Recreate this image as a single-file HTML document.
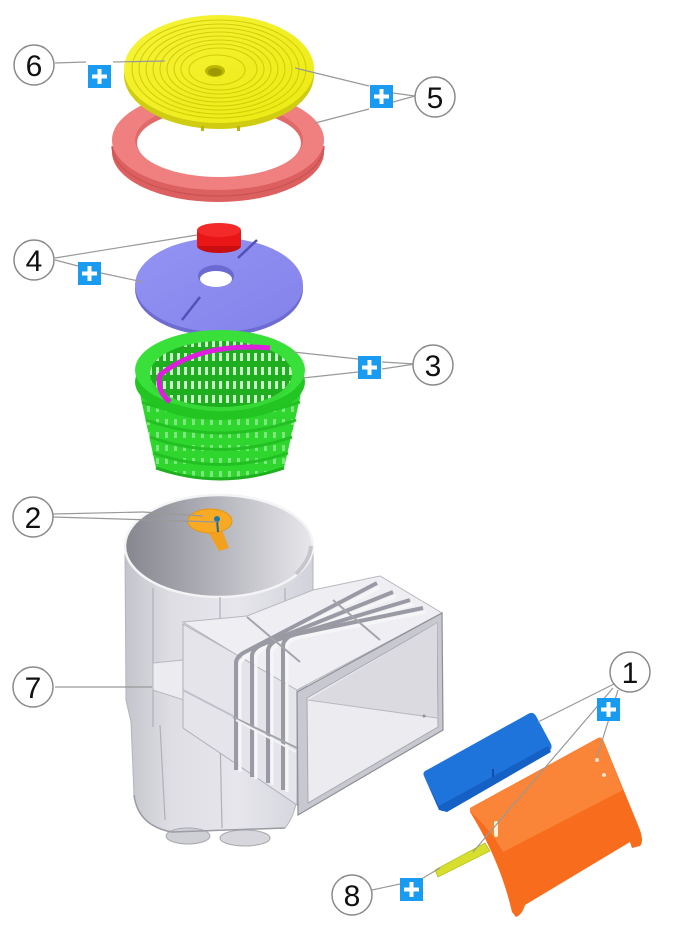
<!DOCTYPE html>
<html><head><meta charset="utf-8">
<style>
html,body{margin:0;padding:0;background:#fff;}
svg{display:block;}
text{font-family:"Liberation Sans",Arial,sans-serif;}
</style></head>
<body>
<svg width="700" height="940" viewBox="0 0 700 940" xmlns="http://www.w3.org/2000/svg">
<defs>
  <linearGradient id="cyl" x1="0" x2="1" y1="0" y2="0">
    <stop offset="0" stop-color="#c4c4cc"/>
    <stop offset="0.25" stop-color="#dedee4"/>
    <stop offset="0.6" stop-color="#e6e6ec"/>
    <stop offset="1" stop-color="#d2d2da"/>
  </linearGradient>
  <linearGradient id="inner" x1="0" x2="1" y1="0" y2="0">
    <stop offset="0" stop-color="#86868e"/>
    <stop offset="0.45" stop-color="#b0b0b8"/>
    <stop offset="1" stop-color="#e8e8ec"/>
  </linearGradient>
  <linearGradient id="lid" x1="0" x2="1" y1="0" y2="1">
    <stop offset="0" stop-color="#f6f43a"/>
    <stop offset="1" stop-color="#ecea10"/>
  </linearGradient>
  <linearGradient id="plate" x1="0" x2="1" y1="0" y2="1">
    <stop offset="0" stop-color="#9494f4"/>
    <stop offset="1" stop-color="#8282ea"/>
  </linearGradient>
  <pattern id="bslots" width="9" height="13" patternUnits="userSpaceOnUse">
    <rect width="9" height="13" fill="#2ed62e"/>
    <rect x="3" y="3" width="3" height="6" fill="#7de67d"/>
  </pattern>
  <pattern id="islots" width="7" height="14" patternUnits="userSpaceOnUse">
    <rect width="7" height="14" fill="#1fae1f"/>
    <rect x="2" y="3" width="3" height="8" fill="#c8f4c8"/>
  </pattern>
</defs>

<!-- ===== Pink ring (5) ===== -->
<ellipse cx="218" cy="152" rx="106" ry="50" fill="#dc6060"/>
<path d="M112,146 A106,50 0 0 0 324,146" fill="none" stroke="#c85252" stroke-width="1.2"/>
<ellipse cx="218" cy="140" rx="106" ry="50" fill="#f07f7f"/>
<ellipse cx="219" cy="140" rx="84" ry="37" fill="#e06a6a"/>
<ellipse cx="219" cy="143" rx="82" ry="34" fill="#ffffff"/>

<!-- ===== Yellow lid (6) ===== -->
<ellipse cx="219" cy="75" rx="95" ry="54" fill="#cfcc12"/>
<ellipse cx="219" cy="69" rx="95" ry="54" fill="url(#lid)"/>
<g fill="none" stroke="#d2cf08" stroke-width="1.1">
  <ellipse cx="219" cy="69" rx="87" ry="49"/>
  <ellipse cx="219" cy="69" rx="80" ry="45"/>
  <ellipse cx="219" cy="69" rx="73" ry="41"/>
  <ellipse cx="219" cy="69" rx="66" ry="37"/>
  <ellipse cx="219" cy="69" rx="59" ry="33"/>
  <ellipse cx="219" cy="69" rx="52" ry="29"/>
  <ellipse cx="219" cy="69" rx="45" ry="25"/>
  <ellipse cx="219" cy="69" rx="38" ry="21"/>
  <ellipse cx="217" cy="70" rx="28" ry="15"/>
</g>
<ellipse cx="215" cy="71" rx="10" ry="6" fill="#bdb600"/>
<ellipse cx="215" cy="72" rx="7" ry="4" fill="#9e9800"/>
<rect x="201" y="126" width="3" height="5" fill="#b8b410"/>
<rect x="237" y="126" width="3" height="5" fill="#b8b410"/>

<!-- ===== Lavender plate (4) ===== -->
<ellipse cx="219" cy="289" rx="84" ry="47" fill="#6c6cd2"/>
<ellipse cx="219" cy="285" rx="84" ry="47" fill="url(#plate)"/>
<ellipse cx="216" cy="276" rx="18" ry="11" fill="#6a6ad0"/>
<ellipse cx="216" cy="279" rx="16" ry="8" fill="#ffffff"/>
<line x1="257" y1="240" x2="238" y2="258" stroke="#5050b8" stroke-width="2.5"/>
<line x1="200" y1="297" x2="182" y2="320" stroke="#5050b8" stroke-width="2.5"/>
<!-- red cap -->
<ellipse cx="219" cy="246" rx="22" ry="7" fill="#c80e0e"/>
<rect x="197" y="230" width="44" height="16" fill="#e81616"/>
<ellipse cx="219" cy="230" rx="22" ry="7" fill="#f42a2a"/>

<!-- ===== Green basket (3) ===== -->
<path d="M138,385 L156,468 Q220,490 284,468 L303,385 Z" fill="url(#bslots)"/>
<g fill="none" stroke="#22c022" stroke-width="3">
  <path d="M142,402 Q220,430 300,402"/>
  <path d="M146,420 Q220,446 296,420"/>
  <path d="M150,437 Q220,462 292,437"/>
  <path d="M153,453 Q220,476 288,453"/>
</g>
<path d="M156,468 Q220,490 284,468" fill="none" stroke="#1eb01e" stroke-width="3"/>
<ellipse cx="220" cy="382" rx="85" ry="38" fill="#22c522"/>
<ellipse cx="220" cy="370" rx="85" ry="40" fill="#3ae03a"/>
<ellipse cx="221" cy="374" rx="71" ry="33" fill="url(#islots)"/>
<path d="M152,384 A71,33 0 0 0 290,384" fill="none" stroke="#36d836" stroke-width="4"/>
<path d="M270,348 Q200,342 160,375 Q156,390 170,402" fill="none" stroke="#dd1fdd" stroke-width="5"/>

<!-- ===== Skimmer body (7) ===== -->
<path d="M125,546 L126,700 L131,722 L134,795 Q138,826 172,832 L285,828 Q296,815 298,790 L313,600 L313,546 Z" fill="url(#cyl)" stroke="#b4b4bc" stroke-width="1"/>
<ellipse cx="188" cy="836" rx="22" ry="8" fill="#cfcfd6" stroke="#a8a8b0"/>
<ellipse cx="245" cy="838" rx="25" ry="8" fill="#d6d6dc" stroke="#a8a8b0"/>
<path d="M134,795 Q138,826 172,832 L285,828" fill="none" stroke="#9c9ca4" stroke-width="1.5"/>
<ellipse cx="219" cy="546" rx="94" ry="51" fill="url(#inner)" stroke="#f4f4f6" stroke-width="2.5"/>
<path d="M296,574 Q310,560 311,546" fill="none" stroke="#c6c6cc" stroke-width="4"/>
<g stroke="#b0b0b8" stroke-width="1.2">
  <line x1="153" y1="588" x2="153" y2="727"/>
  <line x1="220" y1="597" x2="220" y2="625"/>
  <line x1="285" y1="588" x2="285" y2="612"/>
  <line x1="160" y1="725" x2="165" y2="820"/>
  <line x1="220" y1="735" x2="222" y2="828"/>
</g>
<!-- collar -->
<polygon points="153,663 183,660 240,700 233,716 153,690" fill="#ececf0" stroke="#b8b8c0" stroke-width="1"/>

<!-- box left face -->
<polygon points="183,624 237,655 297,690 297,805 183,728" fill="#e4e4ea" stroke="#b0b0b8" stroke-width="1"/>
<!-- box top face -->
<polygon points="183,622 247,616 313,590 380,576 442,613 297,690 237,655" fill="#efeff3" stroke="#b8b8c0" stroke-width="1"/>
<line x1="183" y1="690" x2="233" y2="716" stroke="#c0c0c8" stroke-width="2"/>

<!-- ribs -->
<g fill="none" stroke-linejoin="round">
  <path d="M236,770 L236,662 Q237,656 245,652 L377,583" stroke="#9a9aa4" stroke-width="4"/>
  <path d="M240,772 L240,664 Q241,659 249,655 L380,587" stroke="#f6f6f8" stroke-width="3"/>
  <path d="M252,777 L252,655 Q253,649 261,645 L393,592" stroke="#9a9aa4" stroke-width="4"/>
  <path d="M256,779 L256,657 Q257,652 265,648 L396,596" stroke="#f6f6f8" stroke-width="3"/>
  <path d="M268,783 L268,650 Q269,644 277,640 L410,600" stroke="#9a9aa4" stroke-width="4"/>
  <path d="M272,785 L272,652 Q273,647 281,643 L413,604" stroke="#f6f6f8" stroke-width="3"/>
  <path d="M283,790 L283,645 Q284,639 292,635 L423,608" stroke="#9a9aa4" stroke-width="4"/>
  <path d="M287,792 L287,647 Q288,642 296,638 L426,612" stroke="#f6f6f8" stroke-width="3"/>
</g>
<g stroke="#a4a4ac" stroke-width="2">
  <line x1="247" y1="617" x2="300" y2="662"/>
  <line x1="333" y1="600" x2="380" y2="640"/>
  <line x1="233" y1="717" x2="297" y2="748"/>
</g>
<line x1="236" y1="720" x2="296" y2="752" stroke="#f4f4f6" stroke-width="2"/>

<!-- flange / mouth -->
<polygon points="297,692 442,613 443,730 298,815" fill="#c8c8d0" stroke="#8e8e96" stroke-width="1.2"/>
<polygon points="307,698 437,623 438,727 308,803" fill="#ececf0" stroke="#a8a8b0" stroke-width="1"/>
<polygon points="308,700 437,623 437,718" fill="#dadae0"/>
<line x1="308" y1="700" x2="437" y2="718" stroke="#b8b8c0" stroke-width="1"/>
<circle cx="424" cy="716" r="1.5" fill="#909098"/>

<!-- orange valve flap (2) -->
<polygon points="206,528 222,530 229,548 219,551" fill="#f2a01e"/>
<ellipse cx="210" cy="521" rx="22" ry="12" fill="#f8aa24" stroke="#e8960e" stroke-width="1"/>
<line x1="217" y1="520" x2="218" y2="532" stroke="#1a6a9a" stroke-width="2"/>
<circle cx="217" cy="519" r="3" fill="#1a7ab0"/>

<!-- ===== Blue cover (1) ===== -->
<path d="M427,770 L528,714 Q533,711 536,716 L551,744 Q553,749 548,752 L447,810 Q442,813 439,808 L424,776 Q422,772 427,770 Z" fill="#1f74dc"/>
<path d="M424,776 L439,806 L548,746 L551,752 L447,812 L439,810 Z" fill="#1460c4"/>
<line x1="493" y1="769" x2="493" y2="777" stroke="#0e4ea8" stroke-width="2"/>

<!-- ===== Yellow strap (8) ===== -->
<polygon points="435,870 485,843 490,851 438,877" fill="#d6df2e" stroke="#b8c020" stroke-width="0.8"/>

<!-- ===== Orange flap (1) ===== -->
<path d="M470,808 L598,738 Q602,736 604,742 L640,830 Q644,842 640,846 L632,848 L630,842 L525,905 Q522,915 516,917 L512,912 Q500,860 470,812 Z" fill="#f86c1e"/>
<path d="M470,808 L598,738 Q602,736 604,742 L623,790 L503,852 Q490,828 470,812 Z" fill="#fa8438"/>
<circle cx="597" cy="760" r="2" fill="#ffe0c8"/>
<circle cx="604" cy="775" r="2" fill="#ffe0c8"/>
<rect x="494" y="821" width="4" height="16" rx="2" fill="#fff2d0"/>

<!-- ===== Leader lines ===== -->
<g stroke="#999" stroke-width="1.2" fill="none">
  <line x1="55" y1="63" x2="86" y2="62"/>
  <line x1="113" y1="62" x2="165" y2="61"/>
  <line x1="295" y1="68" x2="369" y2="86"/>
  <line x1="315" y1="123" x2="369" y2="109"/>
  <line x1="393" y1="93" x2="415" y2="96"/>
  <line x1="393" y1="102" x2="415" y2="96"/>
  <line x1="55" y1="258" x2="197" y2="235"/>
  <line x1="55" y1="260" x2="78" y2="266"/>
  <line x1="101" y1="273" x2="143" y2="282"/>
  <line x1="293" y1="352" x2="358" y2="359"/>
  <line x1="303" y1="378" x2="358" y2="372"/>
  <line x1="382" y1="362" x2="415" y2="364"/>
  <line x1="382" y1="369" x2="415" y2="364"/>
  <line x1="53" y1="514" x2="143" y2="512"/>
  <line x1="143" y1="512" x2="203" y2="516"/>
  <line x1="53" y1="517" x2="217" y2="522"/>
  <line x1="55" y1="687" x2="152" y2="687"/>
  <line x1="614" y1="684" x2="538" y2="722"/>
  <line x1="613" y1="688" x2="473" y2="852"/>
  <line x1="618" y1="690" x2="597" y2="757"/>
  <line x1="372" y1="890" x2="400" y2="884"/>
  <line x1="423" y1="878" x2="440" y2="868"/>
</g>

<!-- ===== Plus icons ===== -->
<g>
  <g transform="translate(88,65)"><rect width="23" height="23" fill="#1a9bf2"/><rect x="4" y="9.5" width="15" height="4" fill="#fff"/><rect x="9.5" y="4" width="4" height="15" fill="#fff"/></g>
  <g transform="translate(370,85)"><rect width="23" height="23" fill="#1a9bf2"/><rect x="4" y="9.5" width="15" height="4" fill="#fff"/><rect x="9.5" y="4" width="4" height="15" fill="#fff"/></g>
  <g transform="translate(78,262)"><rect width="23" height="23" fill="#1a9bf2"/><rect x="4" y="9.5" width="15" height="4" fill="#fff"/><rect x="9.5" y="4" width="4" height="15" fill="#fff"/></g>
  <g transform="translate(358,356)"><rect width="23" height="23" fill="#1a9bf2"/><rect x="4" y="9.5" width="15" height="4" fill="#fff"/><rect x="9.5" y="4" width="4" height="15" fill="#fff"/></g>
  <g transform="translate(597,698)"><rect width="23" height="23" fill="#1a9bf2"/><rect x="4" y="9.5" width="15" height="4" fill="#fff"/><rect x="9.5" y="4" width="4" height="15" fill="#fff"/></g>
  <g transform="translate(400,878)"><rect width="23" height="23" fill="#1a9bf2"/><rect x="4" y="9.5" width="15" height="4" fill="#fff"/><rect x="9.5" y="4" width="4" height="15" fill="#fff"/></g>
</g>

<!-- ===== Label circles ===== -->
<g fill="#fff" stroke="#8a8a8a" stroke-width="1.5">
  <circle cx="34" cy="65" r="20"/>
  <circle cx="435" cy="97" r="20"/>
  <circle cx="34" cy="260" r="20"/>
  <circle cx="433" cy="365" r="20"/>
  <circle cx="33" cy="517" r="20"/>
  <circle cx="33" cy="687" r="20"/>
  <circle cx="630" cy="672" r="20"/>
  <circle cx="352" cy="895" r="20"/>
</g>
<g font-size="30" fill="#111" text-anchor="middle">
  <text x="34" y="76">6</text>
  <text x="435" y="108">5</text>
  <text x="34" y="271">4</text>
  <text x="433" y="376">3</text>
  <text x="33" y="528">2</text>
  <text x="33" y="698">7</text>
  <text x="630" y="683">1</text>
  <text x="352" y="906">8</text>
</g>
</svg>
</body></html>
